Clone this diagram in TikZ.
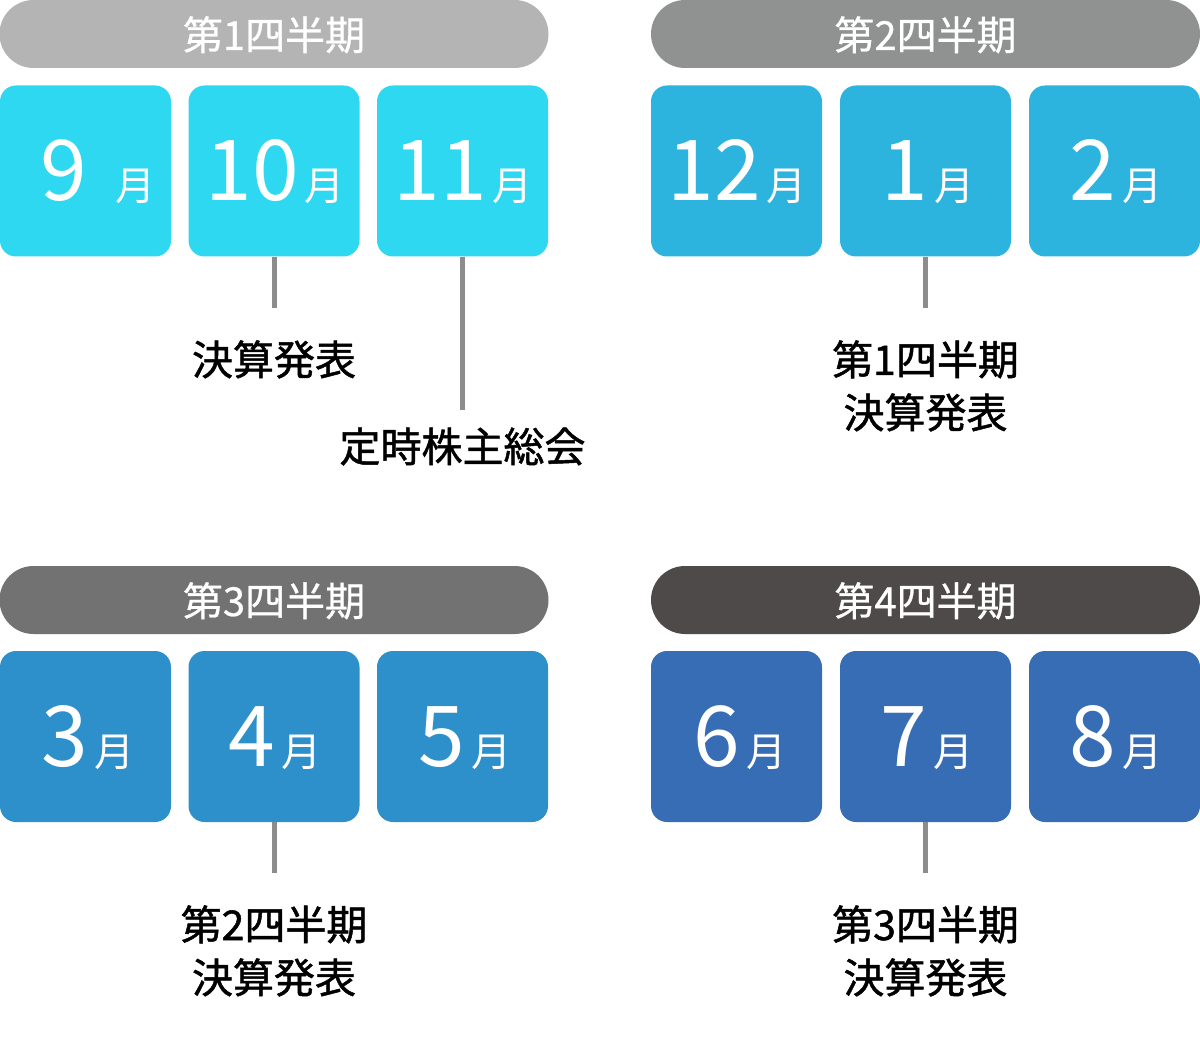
\documentclass[tikz,border=0pt]{standalone}
\usepackage{fontspec}
\setmainfont{Noto Sans CJK JP}
\newfontfamily\cjkbold{Noto Sans CJK JP}[FakeBold=1.2]
\newfontfamily\cjkmed{Noto Sans CJK JP}[FakeBold=0.7]
\definecolor{pillA}{HTML}{B4B4B4}
\definecolor{pillB}{HTML}{909191}
\definecolor{pillC}{HTML}{727272}
\definecolor{pillD}{HTML}{4E4A49}
\definecolor{boxA}{HTML}{2ED8F0}
\definecolor{boxB}{HTML}{2CB3DE}
\definecolor{boxC}{HTML}{2D90CB}
\definecolor{boxD}{HTML}{366DB4}
\definecolor{conn}{HTML}{8C8C8C}
\begin{document}
\begin{tikzpicture}[x=1pt,y=-1pt,
  pill/.style={draw=none,rounded corners=34pt,minimum width=549pt,minimum height=68pt,inner sep=0pt},
  pilltext/.style={text=white,anchor=base,inner sep=0pt,font=\cjkmed\fontsize{40}{40}\selectfont},
  mbox/.style={draw=none,rounded corners=16pt,minimum width=171pt,minimum height=171pt,inner sep=0pt},
  mtext/.style={text=white,anchor=base,inner sep=0pt},
  lbl/.style={anchor=base,inner sep=0pt,text=black,font=\cjkbold\fontsize{41}{53}\selectfont},
  conline/.style={draw=conn,line width=5pt},
]
\newcommand{\mon}[1]{{\fontsize{84}{84}\selectfont #1}\hspace{6pt}{\fontsize{40}{40}\selectfont 月}}
\useasboundingbox (0,0) rectangle (1200,1040);
% pills
\node[pill,fill=pillA] (p1) at (274,34) {};
\node[pill,fill=pillB] (p2) at (925.5,34) {};
\node[pill,fill=pillC] (p3) at (274,600) {};
\node[pill,fill=pillD] (p4) at (925.5,600) {};
\node[pilltext] (p1t) at (274,50) {第1四半期};
\node[pilltext] (p2t) at (925.5,50) {第2四半期};
\node[pilltext] (p3t) at (274,616) {第3四半期};
\node[pilltext] (p4t) at (925.5,616) {第4四半期};
% boxes row 1
\node[mbox,fill=boxA] (m9) at (85.5,171) {};
\node[mbox,fill=boxA] (m10) at (274,171) {};
\node[mbox,fill=boxA] (m11) at (462.5,171) {};
\node[mbox,fill=boxB] (m12) at (736.5,171) {};
\node[mbox,fill=boxB] (m1) at (925.5,171) {};
\node[mbox,fill=boxB] (m2) at (1114.5,171) {};
% boxes row 2
\node[mbox,fill=boxC] (m3) at (85.5,736.5) {};
\node[mbox,fill=boxC] (m4) at (274,736.5) {};
\node[mbox,fill=boxC] (m5) at (462.5,736.5) {};
\node[mbox,fill=boxD] (m6) at (736.5,736.5) {};
\node[mbox,fill=boxD] (m7) at (925.5,736.5) {};
\node[mbox,fill=boxD] (m8) at (1114.5,736.5) {};
% month texts
\node[mtext] (t9) at (98,201) {{\fontsize{84}{84}\selectfont 9}\hspace{28pt}{\fontsize{40}{40}\selectfont 月}};
\node[mtext] (t10) at (275,201) {\mon{10}};
\node[mtext] (t11) at (463,201) {\mon{11}};
\node[mtext] (t12) at (737,201) {\mon{12}};
\node[mtext] (t1) at (928,201) {\mon{1}};
\node[mtext] (t2) at (1116,201) {\mon{2}};
\node[mtext] (t3) at (88,766) {\mon{3}};
\node[mtext] (t4) at (275,766) {\mon{4}};
\node[mtext] (t5) at (465,766) {\mon{5}};
\node[mtext] (t6) at (740,766) {\mon{6}};
\node[mtext] (t7) at (927,766) {\mon{7}};
\node[mtext] (t8) at (1116,766) {\mon{8}};
% connectors
\coordinate (c10) at (274,308);
\coordinate (c11) at (462.5,410);
\coordinate (c1) at (925.5,308);
\coordinate (c4) at (274,873);
\coordinate (c7) at (925.5,873);
\draw[conline] (m10.south) -- (c10);
\draw[conline] (m11.south) -- (c11);
\draw[conline] (m1.south) -- (c1);
\draw[conline] (m4.south) -- (c4);
\draw[conline] (m7.south) -- (c7);
% labels
\node[lbl] (l10) at (274,375) {決算発表};
\node[lbl] (l11) at (462.5,462) {定時株主総会};
\node[lbl] (l1a) at (925.5,375) {第1四半期};
\node[lbl] (l1b) at (925.5,428) {決算発表};
\node[lbl] (l4a) at (274,940) {第2四半期};
\node[lbl] (l4b) at (274,993) {決算発表};
\node[lbl] (l7a) at (925.5,940) {第3四半期};
\node[lbl] (l7b) at (925.5,993) {決算発表};
\end{tikzpicture}
\end{document}
